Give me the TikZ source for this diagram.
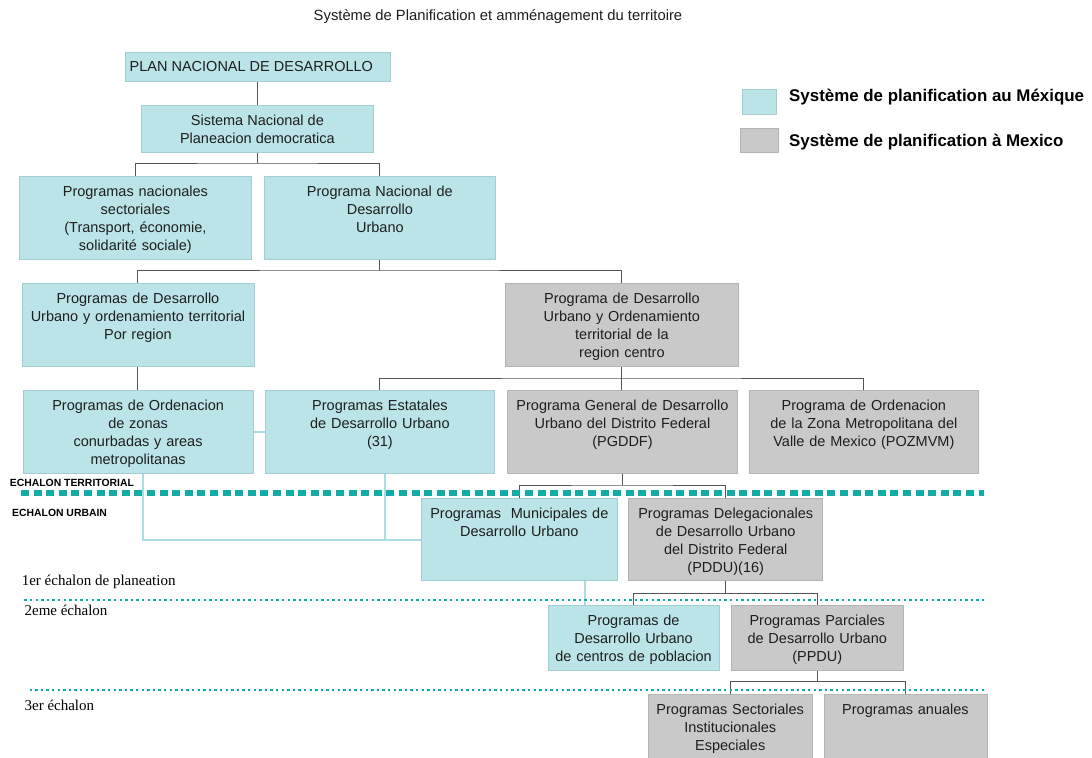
\documentclass[tikz,border=0pt]{standalone}
\usepackage{fontspec}
\setmainfont{Liberation Sans}
\newfontfamily\serifface{Liberation Serif}
\definecolor{bfill}{RGB}{187,228,232}
\definecolor{bline}{RGB}{163,206,212}
\definecolor{gfill}{RGB}{201,201,201}
\definecolor{gline}{RGB}{180,180,180}
\definecolor{tealc}{RGB}{18,172,166}
\definecolor{lcy}{RGB}{170,221,228}
\definecolor{connc}{RGB}{85,85,85}
\definecolor{txt}{RGB}{30,30,30}
\tikzset{
  bluebox/.style={draw=bline, fill=bfill, line width=0.8bp, inner sep=0pt},
  graybox/.style={draw=gline, fill=gfill, line width=0.8bp, inner sep=0pt},
  boxtext/.style={font=\fontsize{14.5bp}{18bp}\selectfont, text=txt, align=center,
    inner xsep=0pt, inner ysep=7.6bp, execute at begin node=\strut},
  plaintext/.style={font=\fontsize{14.5bp}{18bp}\selectfont, text=txt, inner sep=0pt},
  legtext/.style={font=\bfseries\fontsize{16.9bp}{19bp}\selectfont, text=black, inner sep=0pt, anchor=west},
  echtext/.style={font=\bfseries\fontsize{10.4bp}{12bp}\selectfont, text=black, inner sep=0pt, anchor=west},
  sertext/.style={font=\serifface\fontsize{15bp}{17bp}\selectfont, text=black, inner sep=0pt, anchor=west},
  conn/.style={draw=connc, line width=1bp},
  lconn/.style={draw=lcy, line width=2bp},
  thickdash/.style={draw=tealc, line width=6bp, dash pattern=on 8bp off 4.6bp},
  dotline/.style={draw=tealc, line width=2.2bp, dash pattern=on 2.4bp off 3.2bp}
}
\newcommand\mkbox[7]{%
  \pgfmathsetmacro\mybw{#5-#3}\pgfmathsetmacro\mybh{#6-#4}%
  \node[#1, minimum width=\mybw bp, minimum height=\mybh bp, anchor=north west] (#2) at (#3,#4) {};
  \node[boxtext, text width=\mybw bp, anchor=north] (#2-t) at (#2.north) {#7};}
\begin{document}
\begin{tikzpicture}[x=1bp,y=-1bp]
\useasboundingbox[fill=white] (0,0) rectangle (1092,758);

% title
\node[plaintext, font=\fontsize{14.8bp}{18bp}\selectfont] (title) at (498,17) {Système de Planification et amménagement du territoire};

% legend
\node[bluebox, minimum width=34bp, minimum height=25bp, anchor=north west] (lg1) at (742,89) {};
\node[graybox, minimum width=38bp, minimum height=24bp, anchor=north west] (lg2) at (740,128) {};
\node[legtext] (lg1-t) at (789,97) {Système de planification au Méxique};
\node[legtext] (lg2-t) at (789,142) {Système de planification à Mexico};

% boxes
\node[bluebox, minimum width=265bp, minimum height=29bp, anchor=north west] (plan) at (124.7,52) {};
\node[plaintext, anchor=west] (plan-t) at (129.5,66.5) {PLAN NACIONAL DE DESARROLLO};
\node[bluebox, minimum width=232bp, minimum height=47bp, anchor=north west] (sis) at (141,105) {};
\node[plaintext, align=center] (sis-t) at (sis.center) {Sistema Nacional de\\Planeacion democratica};

\mkbox{bluebox}{pns}{19}{176}{251}{259}{Programas nacionales\\sectoriales\\(Transport, économie,\\solidarité sociale)}
\mkbox{bluebox}{pndu}{264}{176}{495}{259}{Programa Nacional de\\Desarrollo\\Urbano}
\mkbox{bluebox}{pr}{21.6}{283}{253.5}{366}{Programas de Desarrollo\\Urbano y ordenamiento territorial\\Por region}
\mkbox{graybox}{rc}{505.4}{283}{737.6}{366}{Programa de Desarrollo\\Urbano y Ordenamiento\\territorial de la\\region centro}
\mkbox{bluebox}{zon}{22.6}{390}{252.8}{473}{Programas de Ordenacion\\de zonas\\conurbadas y areas\\metropolitanas}
\mkbox{bluebox}{est}{264.6}{390}{494.4}{473}{Programas Estatales\\de Desarrollo Urbano\\(31)}
\mkbox{graybox}{pg}{507.3}{390}{736.8}{473}{Programa General de Desarrollo\\Urbano del Distrito Federal\\(PGDDF)}
\mkbox{graybox}{poz}{748.5}{390}{978.4}{473}{Programa de Ordenacion\\de la Zona Metropolitana del\\Valle de Mexico (POZMVM)}
\mkbox{bluebox}{mun}{421.3}{498.3}{616.6}{580}{Programas\ \ Municipales de\\Desarrollo Urbano}
\mkbox{graybox}{del}{628.3}{498.3}{822.3}{580}{Programas Delegacionales\\de Desarrollo Urbano\\del Distrito Federal\\(PDDU)(16)}
\mkbox{bluebox}{cen}{547.5}{605}{718.9}{670}{Programas de\\Desarrollo Urbano\\de centros de poblacion}
\mkbox{graybox}{ppdu}{731}{605}{902.7}{670}{Programas Parciales\\de Desarrollo Urbano\\(PPDU)}
\mkbox{graybox}{sec}{647.8}{694}{811.8}{761}{Programas Sectoriales\\Institucionales\\Especiales}
\mkbox{graybox}{anu}{823.5}{694}{986.6}{761}{Programas anuales}

% junctions
\coordinate (j1) at (257.5,163);
\coordinate (j2) at (379.5,270);
\coordinate (j3) at (621.5,378);
\coordinate (j4) at (622,485);
\coordinate (j5) at (726,593.3);
\coordinate (j6) at (817,681.7);
\coordinate (lz) at (142.8,0);
\coordinate (le) at (384.7,0);
\coordinate (lm) at (584.6,0);

% connectors
\draw[conn] (plan.south) -- (plan.south |- sis.north);
\draw[conn] (sis.south) -- (sis.south |- j1);
\draw[conn] (pns.north) |- (j1) -| (pndu.north);
\draw[conn] (pndu.south) -- (pndu.south |- j2);
\draw[conn] (pr.north) |- (j2) -| (rc.north);
\draw[conn] (pr.south) -- (pr.south |- zon.north);
\draw[conn] (rc.south) -- (rc.south |- pg.north);
\draw[conn] (est.north) |- (j3) -| (poz.north);
\draw[conn] (pg.south) -- (pg.south |- j4);
\draw[conn] (mun.north) |- (j4) -| (del.north);
\draw[conn] (del.south) -- (del.south |- j5);
\draw[conn] (cen.north) |- (j5) -| (ppdu.north);
\draw[conn] (ppdu.south) -- (ppdu.south |- j6);
\draw[conn] (sec.north) |- (j6) -| (anu.north);

% light cyan links
\draw[lconn] (zon.east) -- (est.west);
\draw[lconn] (zon.south -| lz) |- (mun.west);
\draw[lconn] (est.south -| le) -- (le |- mun.west);
\draw[lconn] (mun.south -| lm) -- (cen.north -| lm);

% echelon lines
\draw[thickdash] (21,493.3) -- (984,493.3);
\draw[dotline] (24.4,600) -- (986,600);
\draw[dotline] (29.6,690) -- (986,690);

% echelon labels
\node[echtext] (e1) at (9.7,483.3) {ECHALON TERRITORIAL};
\node[echtext] (e2) at (12,513) {ECHALON URBAIN};
\node[sertext] (s1) at (21.6,581.7) {1er échalon de planeation};
\node[sertext] (s2) at (24.4,610.7) {2eme échalon};
\node[sertext] (s3) at (24.4,705) {3er échalon};
\end{tikzpicture}
\end{document}
